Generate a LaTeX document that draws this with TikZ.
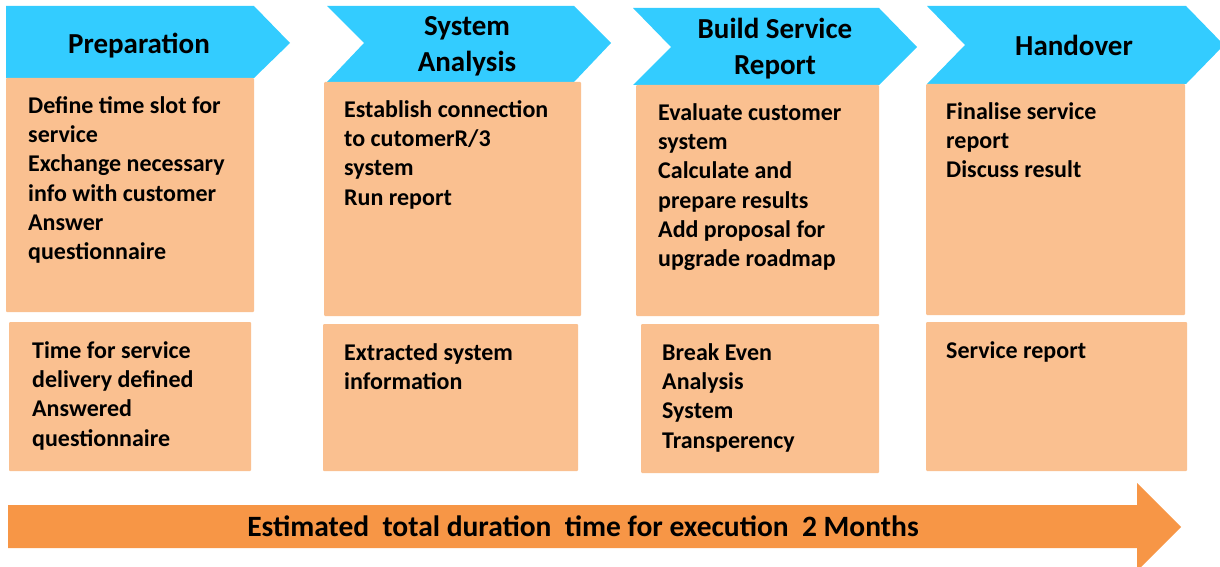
\documentclass[tikz,border=0pt]{standalone}
\usepackage{fontspec}
\setmainfont{Carlito}

\definecolor{phaseblue}{RGB}{51,204,255}
\definecolor{taskorange}{RGB}{250,192,144}
\definecolor{timeorange}{RGB}{247,150,70}

\tikzset{
  phase/.style={fill=phaseblue},
  taskbox/.style={fill=taskorange, rounded corners=1pt},
  phasetext/.style={anchor=north, align=center, inner sep=0pt, font=\fontsize{29}{35.4}\selectfont\bfseries},
  tasktext/.style={anchor=north west, align=left, inner sep=0pt, font=\fontsize{24}{29.3}\selectfont\bfseries},
}

\begin{document}
\begin{tikzpicture}[x=1pt,y=-1pt]
        \clip (0,0) rectangle (1220,567);
        % phase chevrons
        \fill[phase] (6,6) -- (254,6) -- (290,43) -- (254,78) -- (6,78) -- cycle;
        \fill[phase] (327,6) -- (574,6) -- (611,43) -- (574,82) -- (327,82) -- (364,43) -- cycle;
        \fill[phase] (633,8) -- (879,8) -- (917,47) -- (879,85) -- (633,85) -- (671,47) -- cycle;
        \fill[phase] (927,6) -- (1186,6) -- (1224,45) -- (1186,84) -- (927,84) -- (965,45) -- cycle;
        \node[phasetext] (prep) at (139,29) {\strut Preparation};
        \node[phasetext] (anal) at (467,11) {\strut System\\Analysis};
        \node[phasetext] (build) at (775,14) {\strut Build Service\\Report};
        \node[phasetext] (hand) at (1074,31) {\strut Handover};
        % activities
        \fill[taskbox] (6,78) rectangle (254,312);
        \fill[taskbox] (324,82) rectangle (581,316);
        \fill[taskbox] (636,85) rectangle (879,316);
        \fill[taskbox] (926,84) rectangle (1185,315);
        \node[tasktext] (prepdo) at (28,92.5) {\strut Define time slot for\\service\\Exchange necessary\\info with customer\\Answer\\questionnaire};
        \node[tasktext] (analdo) at (344,96.5) {\strut Establish connection\\to cutomerR/3\\system\\Run report};
        \node[tasktext] (builddo) at (658,99.5) {\strut Evaluate customer\\system\\Calculate and\\prepare results\\Add proposal for\\upgrade roadmap};
        \node[tasktext] (handdo) at (946,98.5) {\strut Finalise service\\report\\Discuss result};
        % results
        \fill[taskbox] (9,322) rectangle (251,471);
        \fill[taskbox] (323,324) rectangle (578,471);
        \fill[taskbox] (641,324) rectangle (879,473);
        \fill[taskbox] (926,322) rectangle (1187,471);
        \node[tasktext] (prepout) at (32,337.5) {\strut Time for service\\delivery defined\\Answered\\questionnaire};
        \node[tasktext] (analout) at (344,339.5) {\strut Extracted system\\information};
        \node[tasktext] (buildout) at (662,339.5) {\strut Break Even\\Analysis\\System\\Transperency};
        \node[tasktext] (handout) at (946,337.5) {\strut Service report};
        % duration
        \fill[timeorange] (8,505) -- (1137,505) -- (1137,483) -- (1181,527) -- (1137,571) -- (1137,548) -- (8,548) -- cycle;
        \node[anchor=base, inner sep=0pt, font=\fontsize{29.5}{35}\selectfont\bfseries] (dur) at (583,536) {Estimated\ \ total duration\ \ time for execution\ \ 2 Months};
\end{tikzpicture}
\end{document}
